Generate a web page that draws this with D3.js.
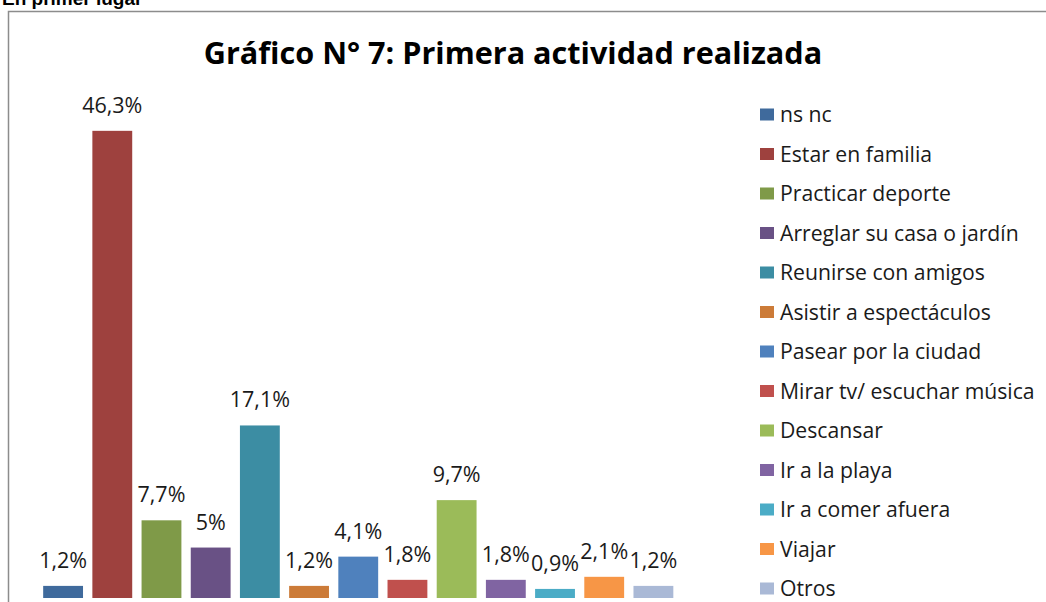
<!DOCTYPE html>
<head>
  <meta charset="utf-8">
  <title>Grafico 7</title>
  <script src="https://d3js.org/d3.v7.min.js"></script>
  <style>
    body { margin:0; background:#fff; }
    svg { display:block; font-family:"Open Sans", sans-serif; }
  </style>
</head>
<body>
  <svg width="1046" height="602"></svg>
  <script>
    var categories = ['ns nc', 'Estar en familia', 'Practicar deporte', 'Arreglar su casa o jardín',
      'Reunirse con amigos', 'Asistir a espectáculos', 'Pasear por la ciudad',
      'Mirar tv/ escuchar música', 'Descansar', 'Ir a la playa', 'Ir a comer afuera', 'Viajar', 'Otros'];
    var values = [1.2, 46.3, 7.7, 5, 17.1, 1.2, 4.1, 1.8, 9.7, 1.8, 0.9, 2.1, 1.2];
    var labels = ['1,2%', '46,3%', '7,7%', '5%', '17,1%', '1,2%', '4,1%', '1,8%', '9,7%', '1,8%', '0,9%', '2,1%', '1,2%'];
    var colors = ['#3f6a9c', '#9e413e', '#7f9a48', '#695185', '#3c8da3', '#cc7b38',
      '#4f81bd', '#c0504d', '#9bbb59', '#8064a2', '#4bacc6', '#f79646', '#aab9d6'];

    var width = 1046, height = 602;
    var svg = d3.select('svg');

    // header text above the frame, mostly cut off (as in the original page)
    svg.append('text')
      .attr('x', 2).attr('y', 5)
      .attr('font-weight', 'bold').attr('font-size', 19)
      .attr('font-family', 'Liberation Sans, Arial, sans-serif')
      .text('En primer lugar');

    // chart frame
    svg.append('rect')
      .attr('x', 8.5).attr('y', 11.5)
      .attr('width', 1100).attr('height', 700)
      .attr('fill', 'none').attr('stroke', '#8c8c8c').attr('stroke-width', 1.5);

    svg.append('text')
      .attr('x', 513).attr('y', 64)
      .attr('text-anchor', 'middle')
      .attr('font-weight', 'bold').attr('font-size', 30.6)
      .text('Gráfico N° 7: Primera actividad realizada');

    var x = d3.scaleBand()
      .domain(categories)
      .range([38.5, 678])
      .paddingInner(0.19).paddingOuter(0.095);
    var y = d3.scaleLinear()
      .domain([0, 50])
      .range([598, 93.5]);

    svg.append('g').selectAll('rect')
      .data(values)
      .join('rect')
      .attr('x', (d, i) => x(categories[i]))
      .attr('y', d => y(d))
      .attr('width', x.bandwidth())
      .attr('height', d => y(0) - y(d))
      .attr('fill', (d, i) => colors[i]);

    svg.append('g').selectAll('text')
      .data(values)
      .join('text')
      .attr('x', (d, i) => x(categories[i]) + x.bandwidth() / 2)
      .attr('y', d => y(d) - 18)
      .attr('text-anchor', 'middle')
      .attr('font-size', 21.5)
      .attr('fill', '#1a1a1a')
      .text((d, i) => labels[i]);

    // legend
    var ly = d3.scalePoint()
      .domain(categories)
      .range([114.5, 588.5]);
    var legend = svg.append('g').selectAll('g')
      .data(categories)
      .join('g')
      .attr('transform', d => 'translate(760,' + ly(d) + ')');
    legend.append('rect')
      .attr('x', 0).attr('y', -6)
      .attr('width', 14).attr('height', 12)
      .attr('fill', (d, i) => colors[i]);
    legend.append('text')
      .attr('x', 20).attr('y', 7.5)
      .attr('font-size', 21.2)
      .attr('fill', '#1a1a1a')
      .text(d => d);
  </script>
</body>
